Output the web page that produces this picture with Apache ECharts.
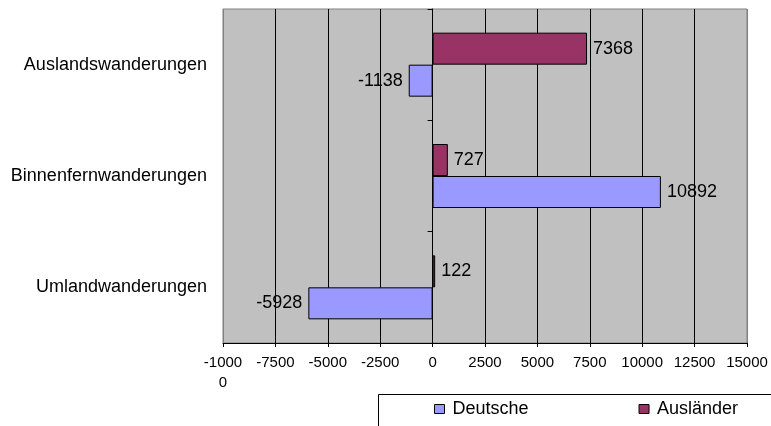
<!DOCTYPE html>
<html>
<head>
<meta charset="utf-8">
<script src="https://cdn.jsdelivr.net/npm/echarts@6/dist/echarts.min.js"></script>
<style>
  html, body { margin: 0; padding: 0; background: #fff; }
  #chart { width: 771px; height: 426px; }
</style>
</head>
<body>
<div id="chart"></div>
<script>
// categories bottom -> top
var categories = ['Umlandwanderungen', 'Binnenfernwanderungen', 'Auslandswanderungen']
var deutsche = [-5928, 10892, -1138]
var auslaender = [122, 727, 7368]
var xTicks = { min: -10000, max: 15000, interval: 2500 }

var font = "'Liberation Sans', Arial, sans-serif"
var fontSize = 18
var tickFontSize = 15

function withLabelSide(values) {
  return values.map(function (v) {
    return { value: v, label: { position: v < 0 ? 'left' : 'right' } }
  })
}

// first/last split lines sit on the grey plot border
var splitColors = []
for (var i = 0; i <= (xTicks.max - xTicks.min) / xTicks.interval; i++) {
  splitColors.push('#000')
}
splitColors[0] = '#808080'
splitColors[splitColors.length - 1] = '#808080'

var chart = echarts.init(document.getElementById('chart'))
chart.setOption({
  animation: false,
  textStyle: { fontFamily: font, fontSize: fontSize, color: '#000' },
  grid: {
    left: 223,
    right: 24,
    top: 9,
    bottom: 83,
    show: true,
    backgroundColor: '#c0c0c0',
    borderColor: '#808080',
    borderWidth: 1
  },
  graphic: [{
    type: 'rect',
    shape: { x: 378.5, y: 394.5, width: 420, height: 60 },
    style: { fill: 'none', stroke: '#000', lineWidth: 1 },
    silent: true
  }],
  legend: {
    data: ['Deutsche', 'Ausländer'],
    left: 429,
    top: 395,
    itemWidth: 10,
    itemHeight: 9,
    itemGap: 110,
    icon: 'rect',
    itemStyle: { borderColor: '#000', borderWidth: 1 },
    textStyle: { fontFamily: font, fontSize: fontSize, color: '#000', padding: [0, 0, 0, 3] }
  },
  xAxis: {
    type: 'value',
    min: xTicks.min,
    max: xTicks.max,
    interval: xTicks.interval,
    axisLine: { show: true, onZero: false, lineStyle: { color: '#000' } },
    axisTick: { show: true, length: 4, lineStyle: { color: '#000' } },
    axisLabel: {
      color: '#000',
      fontFamily: font,
      fontSize: tickFontSize,
      margin: 10,
      lineHeight: 20,
      formatter: function (v) {
        var s = String(v)
        return s.length > 5 ? s.slice(0, 5) + '\n' + s.slice(5) : s
      }
    },
    splitLine: { show: true, lineStyle: { color: splitColors, width: 1 } }
  },
  yAxis: [
    {
      type: 'category',
      data: categories,
      axisLine: { show: false, onZero: false },
      axisTick: { show: false },
      axisLabel: { color: '#000', fontFamily: font, fontSize: fontSize, margin: 16 }
    },
    {
      type: 'category',
      data: categories,
      position: 'left',
      axisLine: { show: true, onZero: true, lineStyle: { color: '#000' } },
      axisTick: { show: true, length: 5, lineStyle: { color: '#000' } },
      axisLabel: { show: false }
    }
  ],
  series: [
    {
      name: 'Ausländer',
      type: 'bar',
      barWidth: 32,
      barGap: 0,
      data: withLabelSide(auslaender),
      itemStyle: { color: '#993366', borderColor: '#000', borderWidth: 1 },
      label: { show: true, distance: 6, color: '#000', fontFamily: font, fontSize: fontSize }
    },
    {
      name: 'Deutsche',
      type: 'bar',
      barWidth: 32,
      barGap: 0,
      data: withLabelSide(deutsche),
      itemStyle: { color: '#9999ff', borderColor: '#000', borderWidth: 1 },
      label: { show: true, distance: 6, color: '#000', fontFamily: font, fontSize: fontSize }
    }
  ]
})
</script>
</body>
</html>
